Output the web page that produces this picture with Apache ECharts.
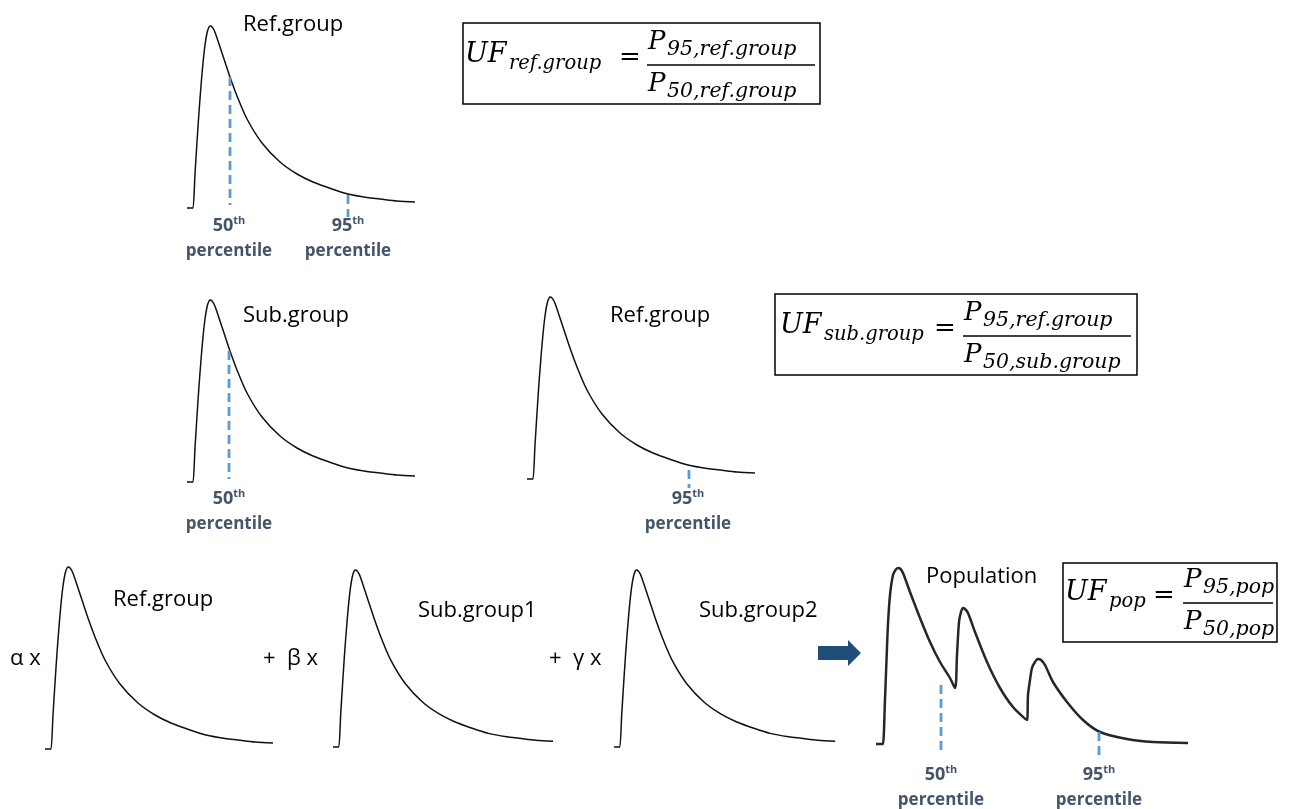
<!DOCTYPE html>
<html><head><meta charset="utf-8">
<script src="https://cdn.jsdelivr.net/npm/echarts/dist/echarts.min.js"></script>
<style>html,body{margin:0;padding:0;background:#fff}#c{width:1290px;height:809px}</style>
</head><body><div id="c"></div>
<script>
// ---- DATA ----
// single-peak (right-skewed) distribution shape: position and density
const peakX = [0, 5, 6, 8, 10, 12, 14, 16, 18, 20, 22, 23.5, 25, 27, 29, 33, 38, 43, 50, 60, 75, 93, 110, 126, 145, 161, 180, 193, 210, 228];
const peakY = [0, 0, 0, 34, 66, 96, 122, 145, 163, 175, 181, 182, 181, 178, 173, 161, 146, 131, 112, 89, 65, 46, 34, 26, 19, 14, 10.5, 9, 7, 6];
// population mixture (three peaks)
const popX = [0, 6, 7, 9, 10.7, 12, 14, 17, 19.5, 22, 24.5, 27, 34, 44, 54, 64, 74, 79, 81, 83, 85, 87, 89, 92, 99, 111, 124, 137, 151, 152, 154, 156, 159, 162, 165, 169, 177, 191, 207, 224, 251, 277, 312];
const popY = [0, 0, 0, 45, 89, 120, 149, 169, 174, 176, 175, 171, 152, 126, 102, 82, 66, 56, 89, 122, 132, 136, 135, 131, 112, 82, 56, 37, 24, 49, 64, 76, 82, 85, 84, 79, 62, 42, 24, 12, 5, 2, 1];
// percentile positions [x, top, bottom]
const refP50 = [43, 131, 3];
const refP95 = [161, 13, -9];
const subP50 = [42, 131, 3];
const ref2P95 = [162, 9, -9];
const popP50 = [65, 59, -8];
const popP95 = [223, 12, -11];
// labels
const groupLabels = ['Ref.group', 'Sub.group', 'Ref.group', 'Ref.group', 'Sub.group1', 'Sub.group2', 'Population'];
const weightLabels = ['α x', '+  β x', '+  γ x'];
const pctLabels = ['50', '95'];

// ---- LAYOUT ----
const panels = [
  {x0:187, yb:208, sx:1, sy:1, W:228, curve:'peak', lines:[refP50, refP95]},
  {x0:187, yb:482, sx:1, sy:1, W:228, curve:'peak', lines:[subP50]},
  {x0:527, yb:479, sx:1, sy:1, W:228, curve:'peak', lines:[ref2P95]},
  {x0:45,  yb:749, sx:1, sy:1, W:228, curve:'peak', lines:[]},
  {x0:333, yb:747, sx:0.965, sy:0.973, W:228, curve:'peak', lines:[]},
  {x0:614, yb:747, sx:0.97, sy:0.973, W:228, curve:'peak', lines:[]},
  {x0:876, yb:744, sx:1, sy:1, W:312, curve:'pop', lines:[popP50, popP95]}
];
const YMIN = -20, YMAX = 195;

const grids = [], xAxes = [], yAxes = [], series = [];
panels.forEach((p, i) => {
  grids.push({left:p.x0, top:p.yb - YMAX*p.sy, width:p.W*p.sx, height:(YMAX-YMIN)*p.sy, containLabel:false});
  xAxes.push({type:'value', gridIndex:i, min:0, max:p.W, show:false});
  yAxes.push({type:'value', gridIndex:i, min:YMIN, max:YMAX, show:false});
  const xs = p.curve === 'pop' ? popX : peakX;
  const ys = p.curve === 'pop' ? popY : peakY;
  series.push({
    type:'line', xAxisIndex:i, yAxisIndex:i, data:xs.map((x,k)=>[x, ys[k]]),
    showSymbol:false, smooth:0.3, silent:true, clip:false,
    lineStyle:{color: p.curve==='pop' ? '#262626' : '#111', width: p.curve==='pop' ? 2.5 : 1.5}
  });
  p.lines.forEach(l => {
    series.push({
      type:'line', xAxisIndex:i, yAxisIndex:i, data:[[l[0], l[1]], [l[0], l[2]]],
      showSymbol:false, silent:true, clip:false,
      lineStyle:{color:'#5b9bd5', width:2.8, type:[9,5]}
    });
  });
});

// ---- TEXT HELPERS ----
function T(text, x, base, size, opt) {
  opt = opt || {};
  const fam = opt.fam || 'Open Sans';
  const k = opt.k != null ? opt.k : (fam === 'Open Sans' ? 0.39 : 0.35);
  return {type:'text', x:x, y:base - k*size, silent:true, z:10,
    style:{text:text, font:(opt.style||'normal') + ' ' + (opt.weight||'normal') + ' ' + size + 'px "' + fam + '"',
      fill:opt.fill||'#000', align:opt.align||'left', verticalAlign:'middle'}};
}
const PC = '#44546a';
function pct(label, cx, base) {
  return [
    {type:'text', x:cx, y:base - 0.39*18, silent:true, z:10,
      style:{text:'{a|' + label + '}{b|th}', align:'center', verticalAlign:'middle',
        rich:{a:{font:'bold 18px "Open Sans"', fill:PC, lineHeight:20, verticalAlign:'bottom'},
              b:{font:'bold 11px "Open Sans"', fill:PC, lineHeight:11, verticalAlign:'top'}}}},
    T('percentile', cx, base + 26, 17, {weight:'bold', fill:PC, align:'center'})
  ];
}
const MF = 'DejaVu Serif';
function it(text, x, base, size) { return T(text, x, base, size, {fam:MF, style:'italic'}); }
function box(x, y, w, h) { return {type:'rect', shape:{x:x, y:y, width:w, height:h}, silent:true, style:{fill:'#fff', stroke:'#000', lineWidth:1.5}}; }
function hline(x1, x2, y) { return {type:'line', shape:{x1:x1, y1:y, x2:x2, y2:y}, silent:true, z:10, style:{stroke:'#000', lineWidth:1.4}}; }
function formula(bx, by, bw, bh, sub, numSub, denSub, lay) {
  const L = by + lay.line;
  return [
    box(bx, by, bw, bh),
    it('UF', lay.uf, L - 1, 27),
    it(sub, lay.uf + 44, L + 6, 19.5),
    T('=', lay.eq, L + 1, 26, {fam:MF, k:0.30}),
    hline(lay.l1, lay.l2, L),
    it('P', lay.l1 + 1, L - 14, 26),
    it(numSub, lay.l1 + 20, L - 8, 20.5),
    it('P', lay.l1 + 1, L + 28, 26),
    it(denSub, lay.l1 + 20, L + 34, 20.5)
  ];
}

const gx = (pi, v) => panels[pi].x0 + v * panels[pi].sx;

let graphic = [];
// group names
graphic.push(T(groupLabels[0], 243, 33, 22));
graphic.push(T(groupLabels[1], 243, 324, 22));
graphic.push(T(groupLabels[2], 610, 324, 22));
graphic.push(T(groupLabels[3], 113, 608, 22));
graphic.push(T(groupLabels[4], 418, 619, 22));
graphic.push(T(groupLabels[5], 699, 619, 22));
graphic.push(T(groupLabels[6], 926, 585, 22));
// weights
graphic.push(T(weightLabels[0], 10, 667, 22));
graphic.push(T(weightLabels[1], 263, 667, 22));
graphic.push(T(weightLabels[2], 549, 667, 22));
// percentile labels
graphic = graphic.concat(pct(pctLabels[0], gx(0, refP50[0]) - 1, 232));
graphic = graphic.concat(pct(pctLabels[1], gx(0, refP95[0]), 232));
graphic = graphic.concat(pct(pctLabels[0], gx(1, subP50[0]), 505));
graphic = graphic.concat(pct(pctLabels[1], gx(2, ref2P95[0]) - 1, 505));
graphic = graphic.concat(pct(pctLabels[0], gx(6, popP50[0]), 781));
graphic = graphic.concat(pct(pctLabels[1], gx(6, popP95[0]), 781));
// arrow
graphic.push({type:'polygon', silent:true, shape:{points:[[818,646],[848,646],[848,640],[861,653],[848,666],[848,660],[818,660]]}, style:{fill:'#1f4e79'}});
// formulas
graphic = graphic.concat(formula(463, 23, 357, 81, 'ref.group', '95,ref.group', '50,ref.group', {line:42, uf:465, eq:619, l1:647, l2:815}));
graphic = graphic.concat(formula(775, 294, 362, 81, 'sub.group', '95,ref.group', '50,sub.group', {line:42, uf:780, eq:934, l1:963, l2:1131}));
graphic = graphic.concat(formula(1063, 563, 214, 79, 'pop', '95,pop', '50,pop', {line:40, uf:1065, eq:1153, l1:1183, l2:1273}));

const chart = echarts.init(document.getElementById('c'), null, {renderer:'canvas'});
chart.setOption({
  animation:false,
  backgroundColor:'#fff',
  grid:grids, xAxis:xAxes, yAxis:yAxes, series:series,
  graphic:graphic
});
</script>
</body></html>
